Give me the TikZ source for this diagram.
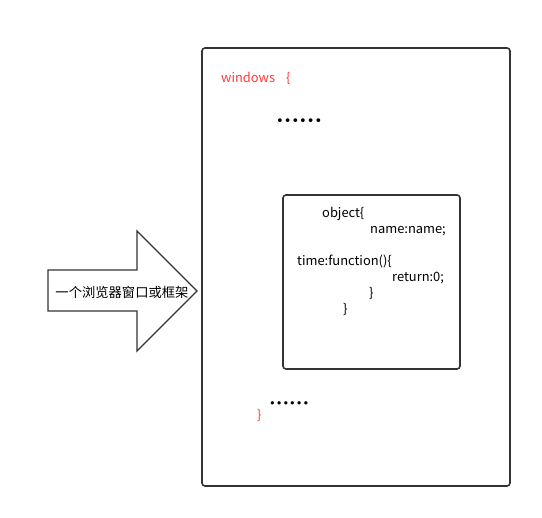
\documentclass[tikz,border=0pt]{standalone}
\usepackage{fontspec}
\setmainfont{Noto Sans CJK SC}
\newfontfamily\dotfont{DejaVu Sans}
\definecolor{codered}{HTML}{FF3B3B}
\definecolor{framegray}{HTML}{333333}
\begin{document}
\begin{tikzpicture}[x=1pt,y=-1pt,
    framebox/.style={draw=framegray,line width=1.6pt,rounded corners=3pt},
    codeline/.style={anchor=base west,inner sep=0pt,font=\fontsize{12.9}{15}\selectfont},
    redline/.style={codeline,text=codered},
    dotline/.style={anchor=base west,inner sep=0pt,font=\dotfont\fontsize{13}{15}\selectfont}]
\useasboundingbox (0,0) rectangle (542,518);
% browser window
\draw[framebox] (202,48) rectangle (510,486);
\node[redline] (win) at (221,83) {windows\hspace{11pt}\{};
\node[dotline] (dotsa) at (276,126) {••••••};
% object
\draw[framebox] (283,195) rectangle (460,369);
\node[codeline] (obj)  at (322,218) {object\{};
\node[codeline] (name) at (370,234) {name:name;};
\node[codeline] (time) at (297,266) {time:function()\{};
\node[codeline] (ret)  at (392,282) {return:0;};
\node[codeline] (clsa) at (369,298) {\}};
\node[codeline] (clsb) at (343,314) {\}};
\node[dotline,font=\dotfont\fontsize{11.3}{13}\selectfont] (dotsb) at (269,408) {••••••};
\node[redline] (winend) at (257,420) {\}};
% arrow
\draw[line width=1.3pt,framegray,line join=miter]
  (48,270) -- (137,270) -- (137,231) -- (197,291) -- (137,351) -- (137,311) -- (48,311) -- cycle;
\node[inner sep=0pt,font=\fontsize{13.3}{15}\selectfont] (lbl) at (122,292) {一个浏览器窗口或框架};
\end{tikzpicture}
\end{document}
